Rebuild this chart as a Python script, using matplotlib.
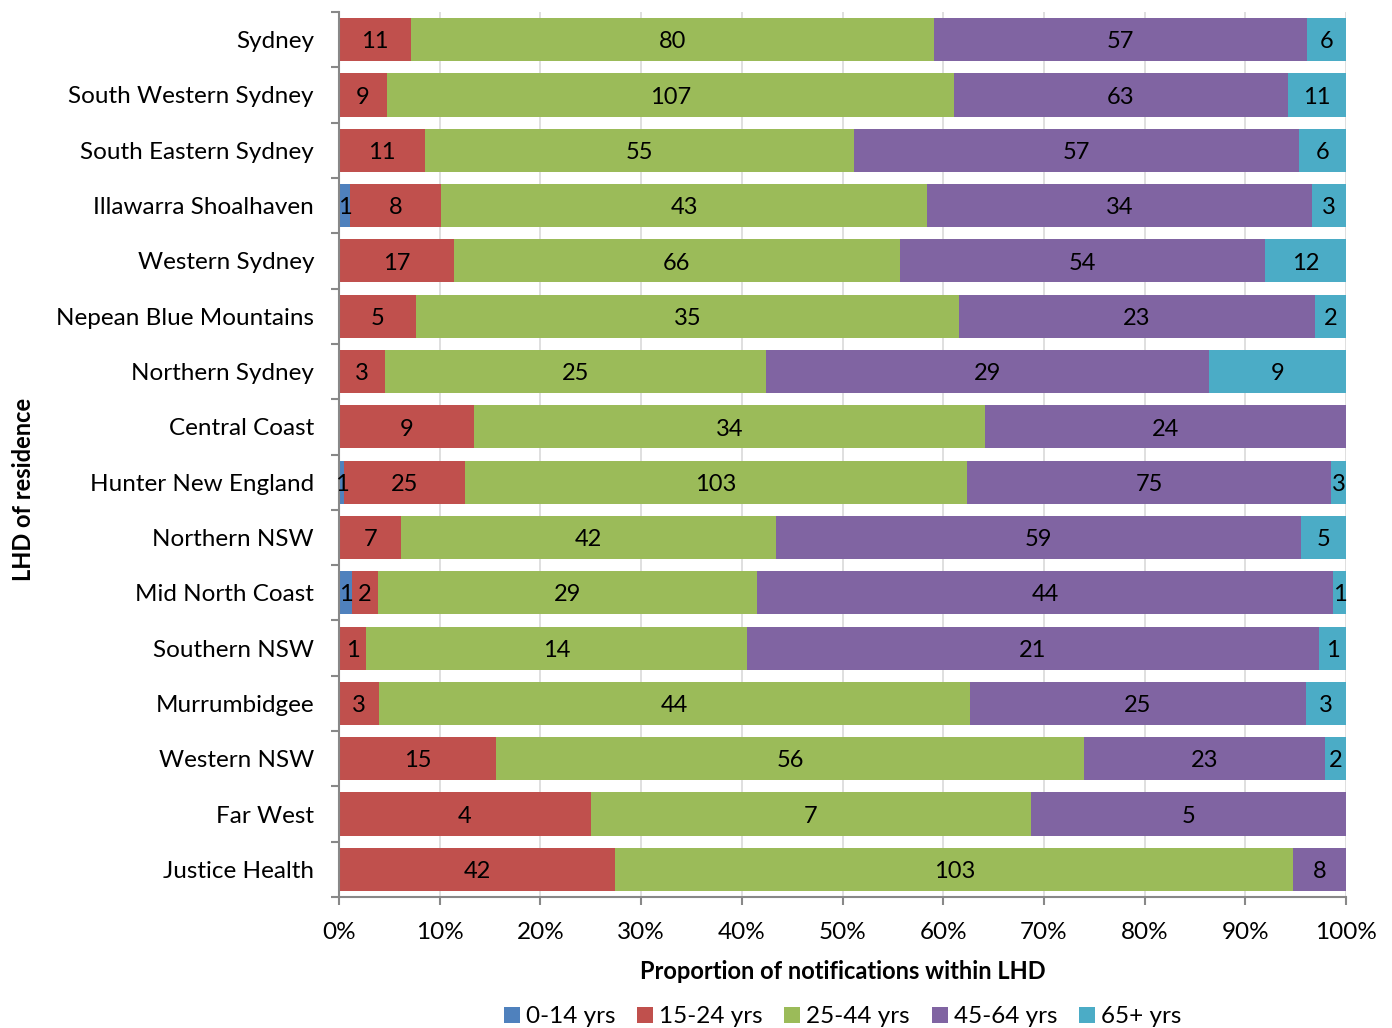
import matplotlib
matplotlib.use("Agg")
import matplotlib.pyplot as plt
import numpy as np
from matplotlib.ticker import FixedLocator, PercentFormatter

plt.rcParams['font.family'] = ['Lato', 'DejaVu Sans']

regions = ["Sydney", "South Western Sydney", "South Eastern Sydney",
           "Illawarra Shoalhaven", "Western Sydney", "Nepean Blue Mountains",
           "Northern Sydney", "Central Coast", "Hunter New England",
           "Northern NSW", "Mid North Coast", "Southern NSW", "Murrumbidgee",
           "Western NSW", "Far West", "Justice Health"]

age_groups = ["0-14 yrs", "15-24 yrs", "25-44 yrs", "45-64 yrs", "65+ yrs"]

age_0_14 = [0, 0, 0, 1, 0, 0, 0, 0, 1, 0, 1, 0, 0, 0, 0, 0]
age_15_24 = [11, 9, 11, 8, 17, 5, 3, 9, 25, 7, 2, 1, 3, 15, 4, 42]
age_25_44 = [80, 107, 55, 43, 66, 35, 25, 34, 103, 42, 29, 14, 44, 56, 7, 103]
age_45_64 = [57, 63, 57, 34, 54, 23, 29, 24, 75, 59, 44, 21, 25, 23, 5, 8]
age_65_plus = [6, 11, 6, 3, 12, 2, 9, 0, 3, 5, 1, 1, 3, 2, 0, 0]

colors = ["#4F81BD", "#C0504D", "#9BBB59", "#8064A2", "#4BACC6"]

counts = np.array([age_0_14, age_15_24, age_25_44, age_45_64, age_65_plus], dtype=float)
totals = counts.sum(axis=0)
shares = counts / totals * 100

fig = plt.figure(figsize=(13.92, 10.28), dpi=100)
ax = fig.add_axes([339 / 1392, 1 - 897 / 1028, 1007 / 1392, 885 / 1028])

y = np.arange(len(regions))
left = np.zeros(len(regions))
for i, label in enumerate(age_groups):
    ax.barh(y, shares[i], left=left, height=0.78, color=colors[i],
            label=label, zorder=2)
    for j in range(len(regions)):
        if counts[i, j] > 0:
            ax.text(left[j] + shares[i, j] / 2, y[j] + 0.04,
                    f"{int(counts[i, j])}", ha="center", va="center",
                    fontsize=17, color="black", zorder=3)
    left += shares[i]

ax.set_xlim(0, 100)
ax.set_ylim(len(regions) - 0.5, -0.5)
ax.xaxis.set_major_locator(FixedLocator(np.arange(0, 101, 10)))
ax.xaxis.set_major_formatter(PercentFormatter(decimals=0))
ax.set_yticks(y)
ax.set_yticklabels(regions)
ax.yaxis.set_minor_locator(FixedLocator(np.arange(-0.5, len(regions), 1)))
ax.tick_params(axis="y", which="major", length=0, pad=18, labelsize=17.5)
ax.tick_params(axis="y", which="minor", length=6, color="#888888", width=1.5)
ax.tick_params(axis="x", which="major", length=6, color="#888888", width=1.5,
               labelsize=17.5, pad=12)

ax.grid(axis="x", color="#D9D9D9", linewidth=1.2, zorder=0)
ax.set_axisbelow(True)
for s in ["top", "right"]:
    ax.spines[s].set_visible(False)
for s in ["left", "bottom"]:
    ax.spines[s].set_color("#888888")
    ax.spines[s].set_linewidth(1.5)

ax.set_xlabel("Proportion of notifications within LHD", fontsize=17,
              fontweight="bold", labelpad=12)
ax.set_ylabel("LHD of residence", fontsize=17, fontweight="bold")
ax.yaxis.set_label_coords(-0.302, 0.46)

ax.legend(loc="center", bbox_to_anchor=(0.5, -0.1355), ncol=5,
          frameon=False, fontsize=17.5, handlelength=0.65, handleheight=0.65,
          handletextpad=0.25, columnspacing=0.9)

fig.savefig("out.png", dpi=100)
